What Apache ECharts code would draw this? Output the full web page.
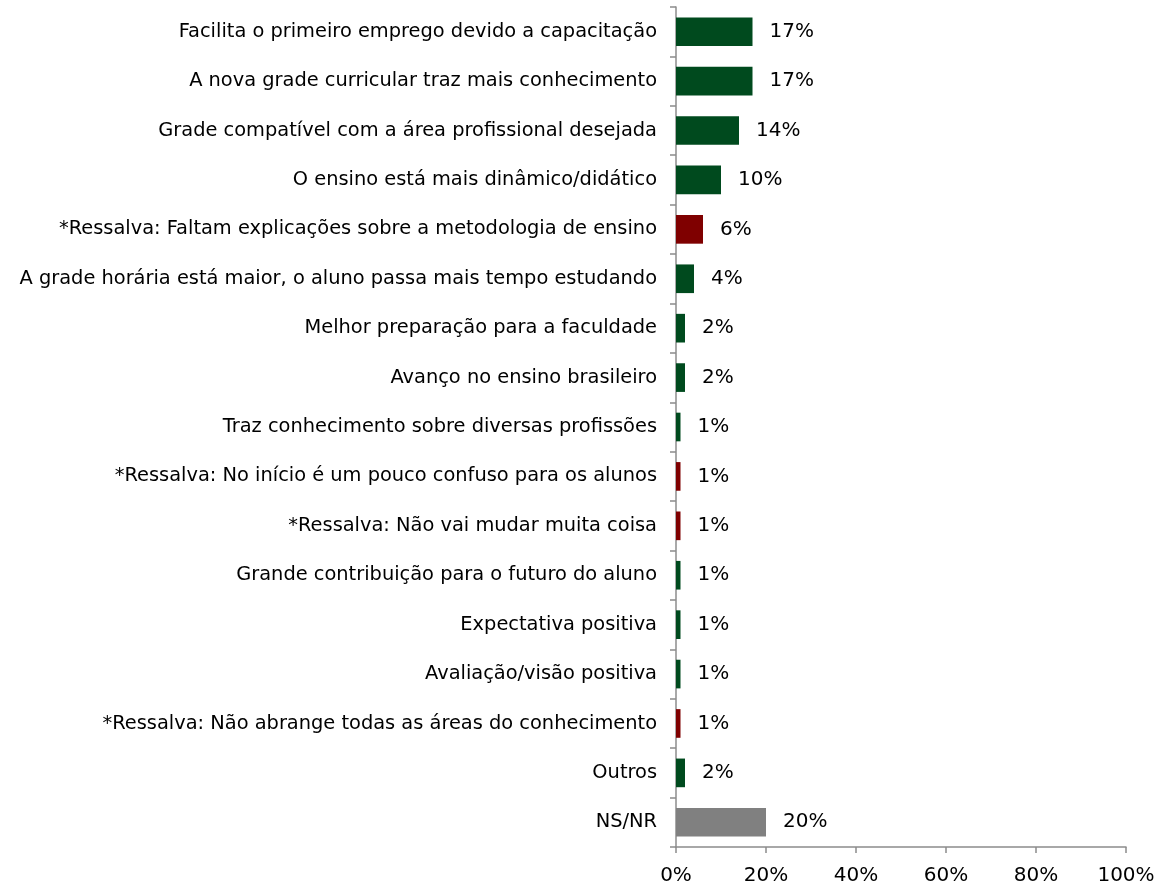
<!DOCTYPE html>
<html>
<head>
<meta charset="utf-8">
<script src="https://cdn.jsdelivr.net/npm/echarts@6/dist/echarts.min.js"></script>
<style>
  html, body { margin: 0; padding: 0; background: #fff; }
  #chart { width: 1158px; height: 893px; }
</style>
</head>
<body>
<div id="chart"></div>
<script>
  // categorias (de cima para baixo)
  var categories = [
    'Facilita o primeiro emprego devido a capacitação',
    'A nova grade curricular traz mais conhecimento',
    'Grade compatível com a área profissional desejada',
    'O ensino está mais dinâmico/didático',
    '*Ressalva: Faltam explicações sobre a metodologia de ensino',
    'A grade horária está maior, o aluno passa mais tempo estudando',
    'Melhor preparação para a faculdade',
    'Avanço no ensino brasileiro',
    'Traz conhecimento sobre diversas profissões',
    '*Ressalva: No início é um pouco confuso para os alunos',
    '*Ressalva: Não vai mudar muita coisa',
    'Grande contribuição para o futuro do aluno',
    'Expectativa positiva',
    'Avaliação/visão positiva',
    '*Ressalva: Não abrange todas as áreas do conhecimento',
    'Outros',
    'NS/NR'
  ]
  var values = [17, 17, 14, 10, 6, 4, 2, 2, 1, 1, 1, 1, 1, 1, 1, 2, 20]
  // tipo de resposta: positiva, ressalva, ns/nr
  var kinds = ['pos', 'pos', 'pos', 'pos', 'res', 'pos', 'pos', 'pos', 'pos', 'res', 'res', 'pos', 'pos', 'pos', 'res', 'pos', 'ns']
  var xTicks = [0, 20, 40, 60, 80, 100]

  var kindColor = { pos: '#004A1E', res: '#7F0000', ns: '#808080' }

  var seriesData = values.map(function (v, i) {
    return { value: v, itemStyle: { color: kindColor[kinds[i]] } }
  })

  var myChart = echarts.init(document.getElementById('chart'))
  myChart.setOption({
    animation: false,
    textStyle: { fontFamily: 'DejaVu Sans' },
    grid: { left: 676, right: 32, top: 7, bottom: 46, containLabel: false },
    xAxis: {
      type: 'value',
      min: xTicks[0],
      max: xTicks[xTicks.length - 1],
      interval: xTicks[1] - xTicks[0],
      axisLine: { show: true, lineStyle: { color: '#8C8C8C', width: 1.5 } },
      axisTick: { show: true, length: 6, lineStyle: { color: '#8C8C8C', width: 1.5 } },
      splitLine: { show: false },
      axisLabel: { color: '#000', fontSize: 20, margin: 19, formatter: '{value}%' }
    },
    yAxis: {
      type: 'category',
      inverse: true,
      data: categories,
      axisLine: { show: true, lineStyle: { color: '#8C8C8C', width: 1.5 } },
      axisTick: { show: true, length: 6, lineStyle: { color: '#8C8C8C', width: 1.5 } },
      axisLabel: { color: '#000', fontSize: 19.4, margin: 19 }
    },
    series: [{
      type: 'bar',
      data: seriesData,
      barCategoryGap: '42%',
      label: {
        show: true,
        position: 'right',
        distance: 17,
        color: '#000',
        fontSize: 20,
        formatter: '{c}%'
      }
    }]
  })
</script>
</body>
</html>
